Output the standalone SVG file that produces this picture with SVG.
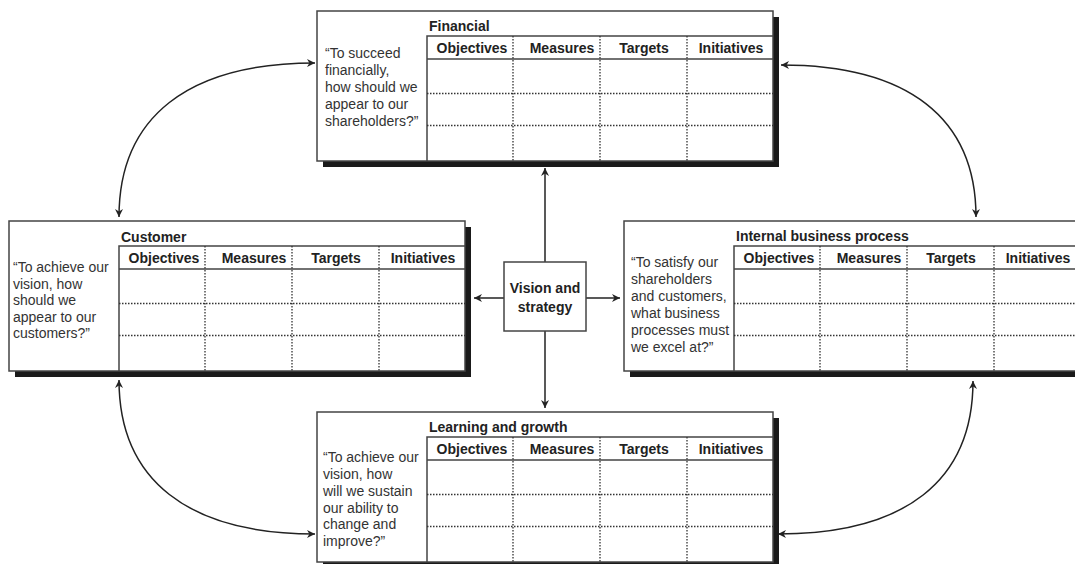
<svg xmlns="http://www.w3.org/2000/svg" width="1075" height="564" viewBox="0 0 1075 564">
<style>
text{font-family:"Liberation Sans",Arial,sans-serif;font-size:14px;fill:#222}
.b{font-weight:bold}
.q{fill:#333}
.hd{font-weight:bold;text-anchor:middle}
.shadow{fill:#1a1a1a}
.box{fill:#fff;stroke:#444;stroke-width:1.5}
.solid{stroke:#444;stroke-width:1.5;fill:none}
.dot{stroke:#333;stroke-width:1.3;stroke-dasharray:1.5 1.5;fill:none}
.conn{stroke:#222;stroke-width:1.5;fill:none;marker-start:url(#ah);marker-end:url(#ah)}
.conn1{stroke:#222;stroke-width:1.5;fill:none;marker-end:url(#ah)}
</style>
<defs>
<marker id="ah" markerUnits="userSpaceOnUse" viewBox="0 0 10 10" markerWidth="9" markerHeight="8" refX="10" refY="5" orient="auto-start-reverse">
<path d="M0,0 L10,5 L0,10 L3,5 z" fill="#222"/>
</marker>
<g id="card">
<rect class="shadow" x="6" y="6" width="456" height="150"/>
<rect class="box" x="0" y="0" width="456" height="150"/>
<path class="solid" d="M110,150 V25 H456 M110,48 H456"/>
<path class="dot" d="M110,82.5 H456 M110,114.5 H456 M196,25 V150 M283,25 V150 M370,25 V150"/>
<text class="hd" x="155" y="41.5">Objectives</text>
<text class="hd" x="245" y="41.5">Measures</text>
<text class="hd" x="327" y="41.5">Targets</text>
<text class="hd" x="414" y="41.5">Initiatives</text>
</g>
</defs>

<g id="connectors">
<path class="conn1" d="M545,262 V168"/>
<path class="conn1" d="M545,331 V408"/>
<path class="conn1" d="M504,298 H474"/>
<path class="conn1" d="M586,298 H620"/>
<path class="conn" d="M119,217 C119,117 188,63 315,63"/>
<path class="conn" d="M781,65 C908,65 976,118 976,217"/>
<path class="conn" d="M119,380 C119,480 188,534 315,534"/>
<path class="conn" d="M973,381 C973,481 905,534 778,534"/>
</g>

<g id="financial" transform="translate(317,11)">
<use href="#card"/>
<text class="b" x="112" y="20">Financial</text>
<text class="q" x="8" y="47">“To succeed</text>
<text class="q" x="8" y="64">financially,</text>
<text class="q" x="8" y="81">how should we</text>
<text class="q" x="8" y="98">appear to our</text>
<text class="q" x="8" y="115">shareholders?”</text>
</g>

<g id="customer" transform="translate(9,221)">
<use href="#card"/>
<text class="b" x="112" y="20.5">Customer</text>
<text class="q" x="4" y="51">“To achieve our</text>
<text class="q" x="4" y="67.5">vision, how</text>
<text class="q" x="4" y="84">should we</text>
<text class="q" x="4" y="101">appear to our</text>
<text class="q" x="4" y="117">customers?”</text>
</g>

<g id="internal" transform="translate(624,221)">
<use href="#card"/>
<text class="b" x="112" y="20">Internal business process</text>
<text class="q" x="7" y="46">“To satisfy our</text>
<text class="q" x="7" y="63">shareholders</text>
<text class="q" x="7" y="80">and customers,</text>
<text class="q" x="7" y="97">what business</text>
<text class="q" x="7" y="113.5">processes must</text>
<text class="q" x="7" y="131">we excel at?”</text>
</g>

<g id="learning" transform="translate(317,412)">
<use href="#card"/>
<text class="b" x="112" y="20">Learning and growth</text>
<text class="q" x="6" y="50">“To achieve our</text>
<text class="q" x="6" y="67">vision, how</text>
<text class="q" x="6" y="84">will we sustain</text>
<text class="q" x="6" y="100.5">our ability to</text>
<text class="q" x="6" y="117">change and</text>
<text class="q" x="6" y="133.5">improve?”</text>
</g>

<g id="vision">
<rect class="box" x="504" y="262" width="82" height="69"/>
<text class="b" x="545" y="293" text-anchor="middle">Vision and</text>
<text class="b" x="545" y="312" text-anchor="middle">strategy</text>
</g>
</svg>
